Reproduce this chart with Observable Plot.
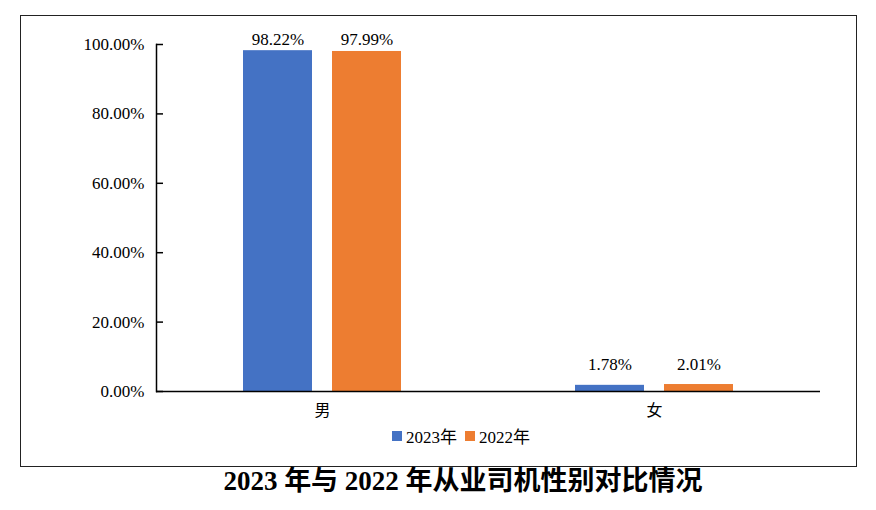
<!DOCTYPE html>
<html>
<head>
<meta charset="utf-8">
<script src="https://cdn.jsdelivr.net/npm/d3@7"></script>
<script src="https://cdn.jsdelivr.net/npm/@observablehq/plot@0.6"></script>
<style>
  html, body { margin: 0; padding: 0; background: #fff; }
  body { width: 876px; height: 510px; position: relative; overflow: hidden; }
  #box { position: absolute; left: 20px; top: 15px; width: 837px; height: 452px; box-sizing: border-box; border: 1.6px solid #222; }
  #chart { position: absolute; left: 0; top: 0; }
  #legend { position: absolute; left: 0; width: 876px; top: 423px; display: flex; justify-content: center; align-items: center; font-family: "Liberation Serif", "Times New Roman", "Noto Sans CJK SC", serif; font-size: 17px; color: #000; padding-left: 46px; box-sizing: border-box; }
  #legend .item { display: flex; align-items: center; margin: 0 4px; }
  #legend .sw { width: 10px; height: 10px; margin-right: 4px; }
  #title { position: absolute; left: 0; width: 876px; top: 465px; line-height: 32px; text-align: center; font-family: "Liberation Serif", "Times New Roman", "Noto Sans CJK SC", serif; font-weight: bold; font-size: 27px; color: #000; padding-left: 50px; box-sizing: border-box; }
</style>
</head>
<body>
<div id="box"></div>
<div id="chart"></div>
<div id="legend"></div>
<div id="title">2023 年与 2022 年从业司机性别对比情况</div>
<script>
const categories = ["男", "女"];
const years = ["2023年", "2022年"];
const values2023 = [0.9822, 0.0178];
const values2022 = [0.9799, 0.0201];
const colors = ["#4472C4", "#ED7D31"];
const yTicks = [0, 0.2, 0.4, 0.6, 0.8, 1.0];

const data = [];
categories.forEach((c, i) => {
  data.push({cat: c, year: years[0], value: values2023[i]});
  data.push({cat: c, year: years[1], value: values2022[i]});
});

const fmt = d => (d * 100).toFixed(2) + "%";
const serif = "'Liberation Serif', 'Times New Roman', serif";

const chart = Plot.plot({
  width: 876,
  height: 430,
  marginLeft: 155,
  marginRight: 56,
  marginTop: 44,
  marginBottom: 39,
  style: {fontFamily: serif, fontSize: "17px", color: "#000", background: "transparent"},
  fx: {domain: categories, padding: 0, label: null},
  x: {domain: years, paddingInner: 0.222, paddingOuter: 0.958, axis: null},
  y: {domain: [0, 1], label: null},
  color: {domain: years, range: colors},
  marks: [
    Plot.barY(data, {fx: "cat", x: "year", y: "value", fill: "year"}),
    Plot.text(data.filter(d => d.cat === categories[0]), {fx: "cat", x: "year", y: "value", text: d => fmt(d.value), lineAnchor: "bottom", dy: -6, fill: "#000", fontFamily: serif}),
    Plot.text(data.filter(d => d.cat === categories[1]), {fx: "cat", x: "year", y: "value", text: d => fmt(d.value), lineAnchor: "bottom", dy: -15, fill: "#000", fontFamily: serif}),
    Plot.ruleY([0], {stroke: "#000", strokeWidth: 1.5}),
    Plot.frame({anchor: "left", facetAnchor: "left", stroke: "#000", strokeWidth: 1.5}),
    Plot.axisY({ticks: yTicks, tickFormat: fmt, tickSize: -7, tickPadding: 19, strokeWidth: 1.5, fontSize: 17, fontFamily: serif}),
    Plot.axisFx({anchor: "bottom", tickSize: 0, tickPadding: 13, label: null, fontFamily: "'Noto Sans CJK SC', sans-serif", fontSize: 16})
  ]
});
document.getElementById("chart").appendChild(chart);

const legend = document.getElementById("legend");
years.forEach((y, i) => {
  const item = document.createElement("div");
  item.className = "item";
  const sw = document.createElement("div");
  sw.className = "sw";
  sw.style.background = colors[i];
  const t = document.createElement("span");
  t.textContent = y;
  item.appendChild(sw);
  item.appendChild(t);
  legend.appendChild(item);
});
</script>
</body>
</html>
